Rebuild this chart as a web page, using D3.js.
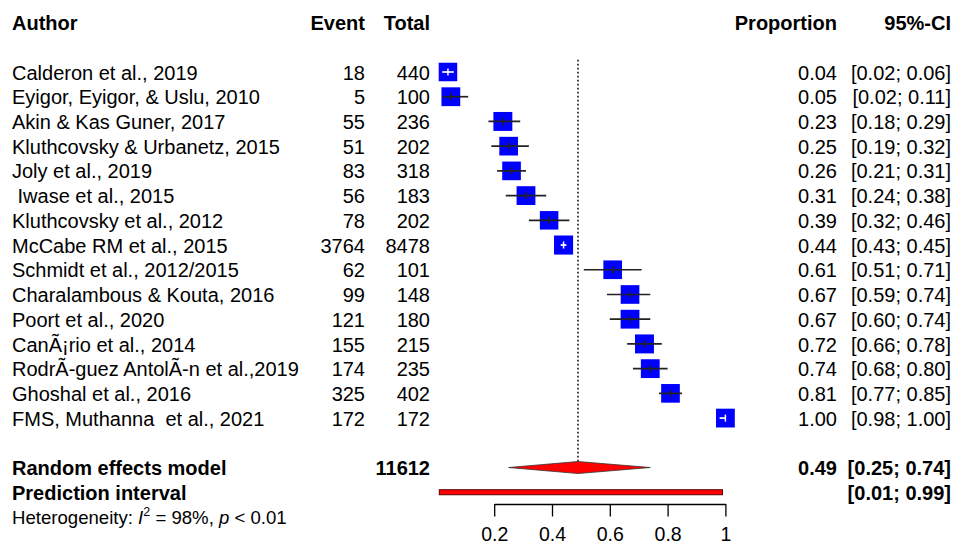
<!DOCTYPE html>
<html>
<head>
<meta charset="utf-8">
<script src="https://cdn.jsdelivr.net/npm/d3@7"></script>
<style>
  html, body { margin: 0; padding: 0; background: #fff; }
  svg text { font-family: "Liberation Sans", Arial, Helvetica, sans-serif; white-space: pre; fill: #000; }
</style>
</head>
<body>
<svg id="chart" width="954" height="551"></svg>
<script>
// ---- data ----
const authors = [
  "Calderon et al., 2019",
  "Eyigor, Eyigor, & Uslu, 2010",
  "Akin & Kas Guner, 2017",
  "Kluthcovsky & Urbanetz, 2015",
  "Joly et al., 2019",
  " Iwase et al., 2015",
  "Kluthcovsky et al., 2012",
  "McCabe RM et al., 2015",
  "Schmidt et al., 2012/2015",
  "Charalambous & Kouta, 2016",
  "Poort et al., 2020",
  "Can\u00C3\u00A1rio et al., 2014",
  "Rodr\u00C3-guez Antol\u00C3-n et al.,2019",
  "Ghoshal et al., 2016",
  "FMS, Muthanna  et al., 2021"
];
const events = [18, 5, 55, 51, 83, 56, 78, 3764, 62, 99, 121, 155, 174, 325, 172];
const totals = [440, 100, 236, 202, 318, 183, 202, 8478, 101, 148, 180, 215, 235, 402, 172];
const proportions = [0.04, 0.05, 0.23, 0.25, 0.26, 0.31, 0.39, 0.44, 0.61, 0.67, 0.67, 0.72, 0.74, 0.81, 1.00];
const ciLower = [0.02, 0.02, 0.18, 0.19, 0.21, 0.24, 0.32, 0.43, 0.51, 0.59, 0.60, 0.66, 0.68, 0.77, 0.98];
const ciUpper = [0.06, 0.11, 0.29, 0.32, 0.31, 0.38, 0.46, 0.45, 0.71, 0.74, 0.74, 0.78, 0.80, 0.85, 1.00];
const weights = [6.5, 6.7, 6.8, 6.6, 6.6, 6.7, 6.5, 6.9, 6.6, 6.6, 6.7, 6.8, 6.7, 6.6, 6.7];
const totalN = 11612;
const reModel = [0.49, 0.25, 0.74];
const predInterval = [0.01, 0.99];
const heterogeneity = { i2: "98%", p: "< 0.01" };
const tickValues = [0.2, 0.4, 0.6, 0.8, 1];
const headers = ["Author", "Event", "Total", "Proportion", "95%-CI"];

// ---- layout ----
const svg = d3.select("#chart");
const FS = 20;
const x = d3.scaleLinear().domain([0, 1]).range([436.4, 725.4]);
const row = i => 72 + i * 24.72;
const base = 7.6;  // text baseline offset from row center
const col = { author: 12, event: 365, total: 430, prop: 837, ci: 951 };
const sizeScale = d3.scaleSqrt().domain([0, 6.7]).range([0, 18.8]);
const fmt2 = d3.format(".2f");
const ciTxt = (l, u) => `[${fmt2(l)}; ${fmt2(u)}]`;

function txt(xp, yp, s, opts = {}) {
  return svg.append("text")
    .attr("x", xp).attr("y", yp)
    .attr("text-anchor", opts.anchor || "start")
    .attr("font-size", opts.size || FS)
    .attr("font-weight", opts.bold ? "bold" : "normal")
    .text(s);
}

// headers
const hy = row(-2) + 7;
txt(col.author, hy, headers[0], { bold: true });
txt(col.event, hy, headers[1], { bold: true, anchor: "end" });
txt(col.total, hy, headers[2], { bold: true, anchor: "end" });
txt(col.prop, hy, headers[3], { bold: true, anchor: "end" });
txt(col.ci, hy, headers[4], { bold: true, anchor: "end" });

// reference dotted line at pooled estimate
svg.append("line")
  .attr("x1", x(reModel[0])).attr("x2", x(reModel[0]))
  .attr("y1", row(-0.5)).attr("y2", row(16) - 6)
  .attr("stroke", "#333").attr("stroke-width", 1.8)
  .attr("stroke-dasharray", "1.8,2.2");

// study rows
authors.forEach((a, i) => {
  const yc = row(i);
  const yb = yc + base;
  txt(col.author, yb, a);
  txt(col.event, yb, events[i], { anchor: "end" });
  txt(col.total, yb, totals[i], { anchor: "end" });
  txt(col.prop, yb, fmt2(proportions[i]), { anchor: "end" });
  txt(col.ci, yb, ciTxt(ciLower[i], ciUpper[i]), { anchor: "end" });

  const s = sizeScale(weights[i]);
  const cx = x(proportions[i]);
  const inside = x(ciLower[i]) >= cx - s / 2 && x(ciUpper[i]) <= cx + s / 2;
  svg.append("rect")
    .attr("x", cx - s / 2).attr("y", yc - s / 2)
    .attr("width", s).attr("height", s)
    .attr("fill", "#0000ff");
  const lc = inside ? "#ffffff" : "#222";
  svg.append("line")
    .attr("x1", x(ciLower[i])).attr("x2", x(ciUpper[i]))
    .attr("y1", yc).attr("y2", yc)
    .attr("stroke", lc).attr("stroke-width", 1.7);
  svg.append("line")
    .attr("x1", cx).attr("x2", cx)
    .attr("y1", yc - 3.5).attr("y2", yc + 3.5)
    .attr("stroke", lc).attr("stroke-width", 1.5);
});

// random effects model
const ry = row(16);
txt(col.author, ry + base, "Random effects model", { bold: true });
txt(col.total, ry + base, totalN, { bold: true, anchor: "end" });
txt(col.prop, ry + base, fmt2(reModel[0]), { bold: true, anchor: "end" });
txt(col.ci, ry + base, ciTxt(reModel[1], reModel[2]), { bold: true, anchor: "end" });
svg.append("path")
  .attr("d", `M${x(reModel[1])},${ry} L${x(reModel[0])},${ry - 6} L${x(reModel[2])},${ry} L${x(reModel[0])},${ry + 6} Z`)
  .attr("fill", "#ff0000").attr("stroke", "#333").attr("stroke-width", 0.8);

// prediction interval
const py = row(17);
txt(col.author, py + base, "Prediction interval", { bold: true });
txt(col.ci, py + base, ciTxt(predInterval[0], predInterval[1]), { bold: true, anchor: "end" });
svg.append("rect")
  .attr("x", x(predInterval[0])).attr("y", py - 2.5)
  .attr("width", x(predInterval[1]) - x(predInterval[0])).attr("height", 5)
  .attr("fill", "#ff0000").attr("stroke", "#5a0000").attr("stroke-width", 1);

// heterogeneity
const het = svg.append("text")
  .attr("x", col.author).attr("y", row(18) + 7)
  .attr("font-size", 18.6);
het.append("tspan").text("Heterogeneity: ");
het.append("tspan").attr("font-style", "italic").text("I");
het.append("tspan").attr("font-size", 12.5).attr("dy", -8).text("2");
het.append("tspan").attr("dy", 8).text(` = ${heterogeneity.i2}, `);
het.append("tspan").attr("font-style", "italic").text("p");
het.append("tspan").text(` ${heterogeneity.p}`);

// axis
const xAxisScale = d3.scaleLinear()
  .domain([tickValues[0], tickValues[tickValues.length - 1]])
  .range([x(tickValues[0]), x(tickValues[tickValues.length - 1])]);
const axisG = svg.append("g")
  .attr("transform", `translate(0,${504})`)
  .call(d3.axisBottom(xAxisScale)
    .tickValues(tickValues)
    .tickSize(12.5)
    .tickSizeOuter(0)
    .tickFormat(d => d === 1 ? "1" : d3.format(".1f")(d)));
axisG.select(".domain").attr("stroke", "#000").attr("stroke-width", 1.3);
axisG.selectAll(".tick line").attr("stroke", "#000").attr("stroke-width", 1.3);
axisG.selectAll(".tick text")
  .attr("y", 37).attr("dy", null)
  .attr("font-size", 19.5)
  .attr("font-family", "'Liberation Sans', Arial, sans-serif")
  .attr("fill", "#000");
</script>
</body>
</html>
